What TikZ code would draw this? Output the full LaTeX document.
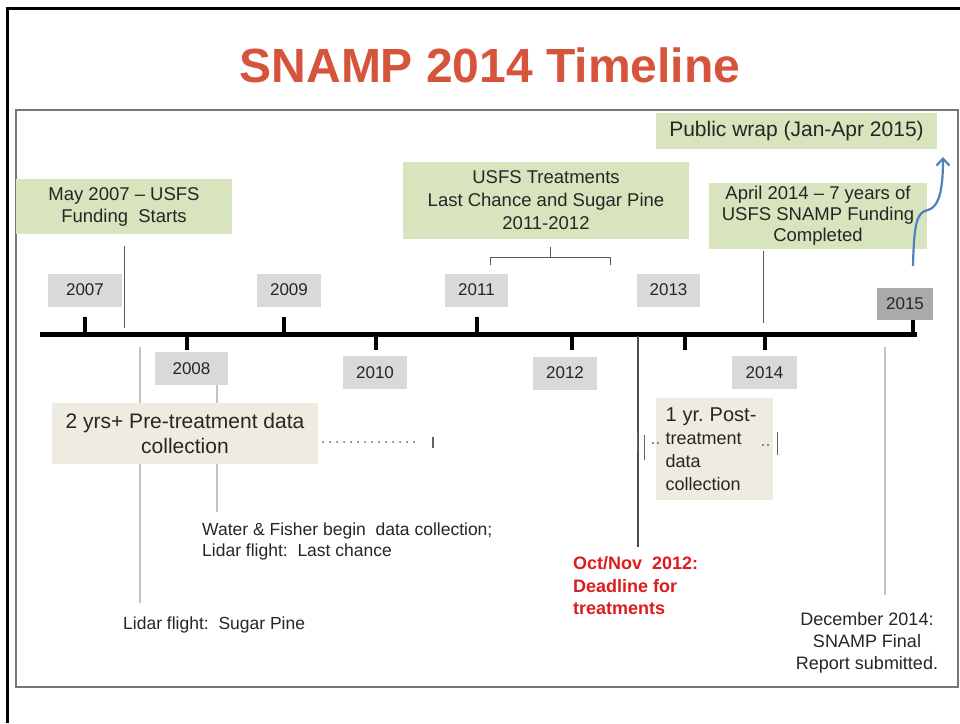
\documentclass[tikz,border=0pt]{standalone}
\usepackage{fontspec}
\setmainfont{Liberation Sans}
\usetikzlibrary{arrows.meta}
\definecolor{titlered}{RGB}{214,84,60}
\definecolor{deadred}{RGB}{222,28,30}
\definecolor{txt}{RGB}{38,38,38}
\definecolor{boxgreen}{RGB}{215,228,189}
\definecolor{boxtan}{RGB}{238,236,225}
\definecolor{yeargray}{RGB}{217,217,217}
\definecolor{yeardark}{RGB}{170,170,170}
\definecolor{leadgray}{RGB}{90,90,90}
\definecolor{palegray}{RGB}{195,195,195}
\definecolor{bargray}{RGB}{100,100,100}
\definecolor{framegray}{RGB}{120,120,120}
\definecolor{upblue}{RGB}{79,129,189}
\newcommand{\fsz}[2]{\fontsize{#1}{#2}\selectfont}

\begin{document}
\begin{tikzpicture}[x=1pt,y=-1pt,
  yearbox/.style={fill=yeargray, text=txt, inner sep=0pt, minimum height=33pt, font=\fsz{17}{20}},
  greenbox/.style={fill=boxgreen, text=txt, inner sep=0pt, align=center, font=\fsz{18.5}{22}},
  tanbox/.style={fill=boxtan, text=txt, inner sep=0pt},
  note/.style={text=txt, inner sep=0pt, font=\fsz{17.5}{21}},
  lead/.style={draw=leadgray, line width=1pt},
  palelead/.style={draw=palegray, line width=1.2pt},
  tick/.style={line width=3.5pt},
  bar/.style={draw=bargray, line width=1.5pt},
  dots/.style={draw=bargray, line width=2pt, line cap=round, dash pattern=on 0pt off 7pt}]
  \useasboundingbox (0,0) rectangle (960,723);
  \fill[white] (0,0) rectangle (960,723);
  \draw[line width=3pt] (7,723) -- (7,8) -- (960,8);
  \draw[framegray, line width=1.2pt] (16,110) rectangle (958,687);

  \node[font=\fsz{48}{56}\bfseries, text=titlered] (title) at (490,65) {SNAMP 2014 Timeline};

  % axis
  \coordinate (axL) at (40,334);
  \coordinate (axR) at (917,334);
  \draw[line width=5pt] (axL) -- (axR);
  \foreach \x/\d in {85/-17,187/16,284/-17,376/16,477/-17,572/16,685/16,765/16,913/-17}
    \draw[tick] (\x,334) -- ++(0,\d);

  % years
  \node[yearbox, minimum width=74pt] (y2007) at (85,290) {2007};
  \node[yearbox, minimum width=73pt] (y2008) at (191.5,368.5) {2008};
  \node[yearbox, minimum width=64pt] (y2009) at (289,290) {2009};
  \node[yearbox, minimum width=64pt] (y2010) at (375,372.5) {2010};
  \node[yearbox, minimum width=63pt] (y2011) at (476.5,290) {2011};
  \node[yearbox, minimum width=64pt] (y2012) at (565,373) {2012};
  \node[yearbox, minimum width=63pt] (y2013) at (668.5,290) {2013};
  \node[yearbox, minimum width=65pt] (y2014) at (764.5,372.5) {2014};
  \node[yearbox, minimum width=56pt, minimum height=32pt, fill=yeardark] (y2015) at (905,304) {2015};

  % above the axis
  \node[greenbox, minimum width=216pt, minimum height=55pt] (may07) at (124,206.5) {May 2007 -- USFS\\Funding\ \ Starts};
  \node[greenbox, minimum width=286pt, minimum height=77pt, font=\fsz{18.5}{23}] (treat) at (546,200.5) {USFS Treatments\\Last Chance and Sugar Pine\\2011-2012};
  \node[greenbox, minimum width=281pt, minimum height=36pt, font=\fsz{21}{24}] (wrap) at (796.5,131) {Public wrap (Jan-Apr 2015)};
  \node[greenbox, minimum width=218pt, minimum height=66pt, font=\fsz{18.5}{21}] (apr14) at (818,216) {April 2014 -- 7 years of\\USFS SNAMP Funding\\Completed};

  \coordinate (brk) at (550,257);
  \draw[lead, shorten >=8pt] (brk) -- (brk |- treat.south);
  \draw[lead] (490,265) -- (490,257) -- (610,257) -- (610,265);
  \coordinate (mayFoot) at (124,328);
  \draw[lead, shorten <=12pt] (may07.south -| mayFoot) -- (mayFoot);
  \coordinate (aprFoot) at (763,323);
  \draw[lead, shorten <=2pt] (apr14.south -| aprFoot) -- (aprFoot);

  \coordinate (upFoot) at (913,266);
  \coordinate (upTip) at (943,157);
  \draw[upblue, line width=2.2pt, -{Straight Barb[length=7pt,width=13pt]}] (upFoot) .. controls (914,222) and (917,212) .. (928,210) .. controls (939,207) and (943,190) .. (upTip);

  % below the axis
  \node[note, anchor=west] (lidarSP) at (123,625) {Lidar flight:\ \ Sugar Pine};
  \coordinate (spTop) at (140,347);
  \draw[palelead, shorten >=14pt] (spTop) -- (lidarSP.north -| spTop);
  \node[note, anchor=west, align=left] (water) at (202,541.5) {Water \& Fisher begin\ \ data collection;\\Lidar flight:\ \ Last chance};
  \coordinate (wfTop) at (217,388);
  \draw[palelead, shorten >=11pt] (y2008.south -| wfTop) -- (water.north -| wfTop);

  \node[tanbox, minimum width=266pt, minimum height=61pt, align=center, font=\fsz{21}{25}] (pretreat) at (185,433.5) {2 yrs+ Pre-treatment data\\collection};
  \coordinate (preBar) at (433,442);
  \draw[dots, shorten <=5pt, shorten >=12pt] (pretreat.east |- preBar) -- (preBar);
  \draw[bar] ([yshift=5.5pt]preBar) -- ([yshift=-5.5pt]preBar);

  \node[anchor=west, align=left, inner sep=0pt, text=deadred, font=\fsz{18}{22.5}\bfseries] (deadline) at (573,586) {Oct/Nov\ \ 2012:\\Deadline for\\treatments};
  \coordinate (ddTop) at (638,336);
  \draw[lead, draw=black!70, line width=1.2pt, shorten >=10pt] (ddTop) -- (deadline.north -| ddTop);

  \node[tanbox, minimum width=117pt, minimum height=102pt, text width=97pt, inner xsep=10pt, align=left, font=\fsz{18}{23}] (post) at (714,449) {{\fsz{20}{23}1 yr.\ Post-}\\treatment\\data\\collection};
  \draw[bar] ([xshift=-18pt,yshift=17pt]post.west) -- ++(0,21);
  \draw[bar] ([xshift=-11pt,yshift=14pt]post.west) -- ++(0,25);
  \draw[bar] ([xshift=5pt,yshift=17pt]post.east) -- ++(0,23);
  \foreach \x in {653,658} \fill[bargray] (\x,443) circle (1.1pt);
  \foreach \x in {763,768} \fill[bargray] (\x,445) circle (1.1pt);

  \node[note, align=center, font=\fsz{18}{22}] (dec14) at (867,643) {December 2014:\\SNAMP Final\\Report submitted.};
  \coordinate (decTop) at (885,347);
  \draw[palelead, shorten >=17pt] (decTop) -- (dec14.north -| decTop);
\end{tikzpicture}
\end{document}
